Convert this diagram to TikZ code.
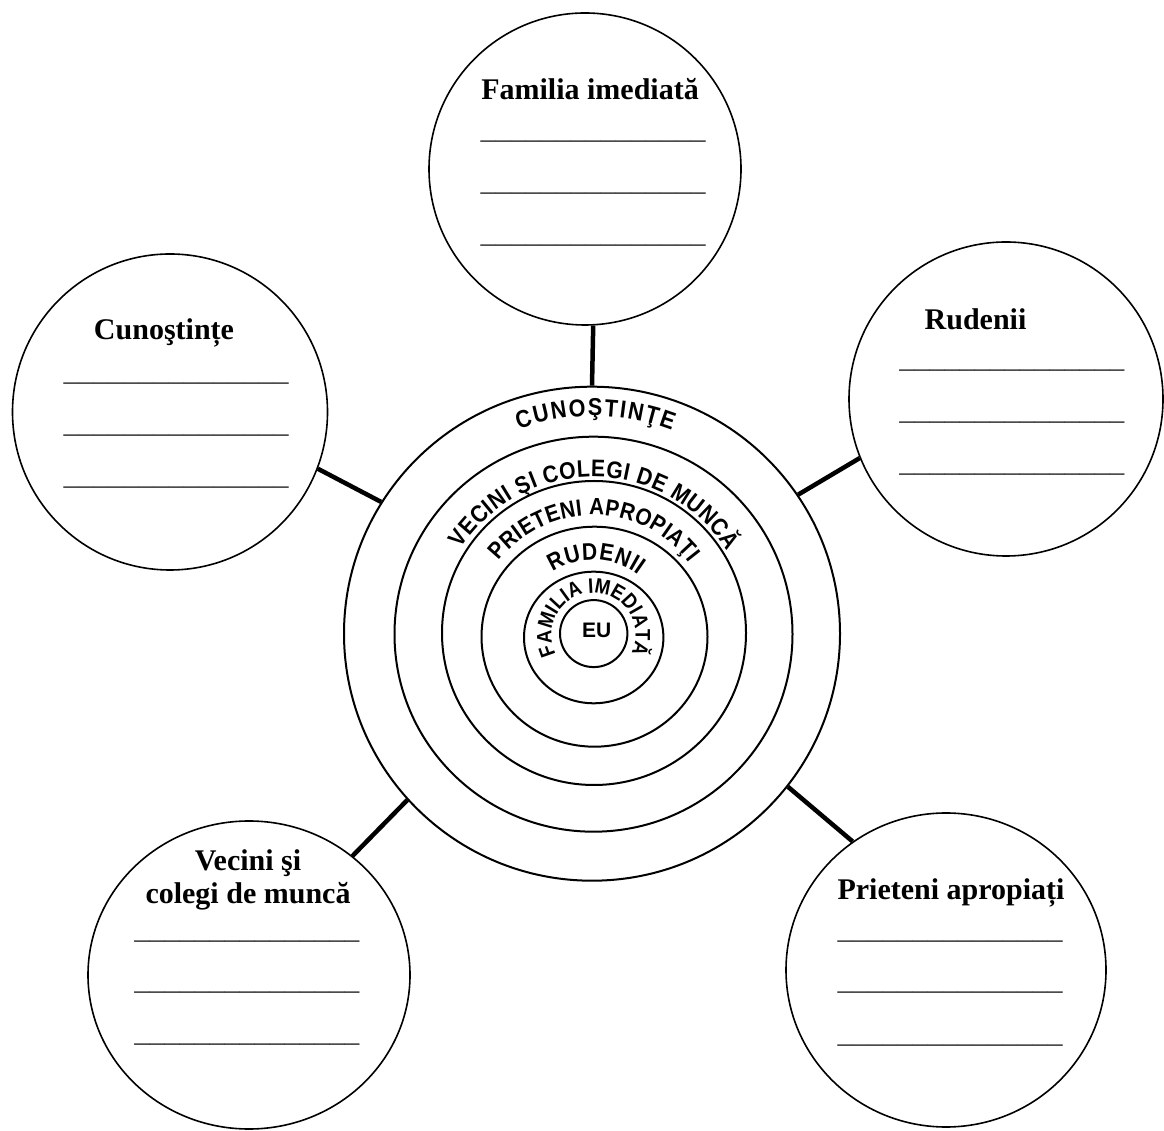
\documentclass[tikz,border=0pt]{standalone}
\usepackage{fontspec}
\setmainfont{Liberation Serif}
\newfontfamily\csans{Liberation Sans}
\newfontfamily\csanst[FakeStretch=0.88]{Liberation Sans}
\usetikzlibrary{shapes.geometric,decorations.text}
\newcommand\myblank{\_\_\_\_\_\_\_\_\_\_\_\_\_\_\_}
\begin{document}
\begin{tikzpicture}[x=1pt,y=1pt,
  sat/.style={draw, ellipse, line width=1.6pt, inner sep=0pt},
  ring/.style={draw, ellipse, line width=2pt, inner sep=0pt},
  link/.style={line width=4.5pt},
  ttl/.style={font=\fontsize{30}{32}\selectfont\bfseries, anchor=base, inner sep=0pt},
  blank/.style={font=\fontsize{30}{32}\selectfont, anchor=base, inner sep=0pt, text=black!80},
  arctext/.style={decorate, decoration={text along path, text align=fit to path, text={#1}}}
  ]
\useasboundingbox (0,0) rectangle (1164,1130);

% central rings
\node[ring, minimum width=496, minimum height=494] (r6) at (592,496.3) {};
\node[ring, minimum width=398, minimum height=395] (r5) at (593.5,495.8) {};
\node[ring, minimum width=304, minimum height=304] (r4) at (594,497) {};
\node[ring, minimum width=226, minimum height=220] (r3) at (594.5,493.3) {};
\node[ring, minimum width=139.4, minimum height=131.6] (r2) at (593.7,492.5) {};
\node[ring, minimum width=67.4, minimum height=67] (r1) at (593.7,496.4) {};
\node[font=\csans\bfseries\fontsize{21}{21}\selectfont, anchor=base, inner sep=0pt] (eu) at (596.7,492) {EU};

\coordinate (O) at (593.5,495);
\path[arctext={|\csanst\bfseries\fontsize{24.5}{24.5}\selectfont|CUNOŞTINŢE}]
  ([shift={(110:219)}]O) arc[start angle=110, end angle=69, radius=219];
\path[arctext={|\csanst\bfseries\fontsize{24}{24}\selectfont|VECINI ŞI COLEGI DE MUNCĂ}]
  ([shift={(147:158)}]O) arc[start angle=147, end angle=32, radius=158];
\path[arctext={|\csanst\bfseries\fontsize{23.5}{23.5}\selectfont|PRIETENI APROPIAŢI}]
  ([shift={(142:120)}]O) arc[start angle=142, end angle=37, radius=120];
\path[arctext={|\csanst\bfseries\fontsize{24}{24}\selectfont|RUDENII}]
  ([shift={(123:75)}]O) arc[start angle=123, end angle=53, radius=75];
\path[arctext={|\csanst\bfseries\fontsize{21}{21}\selectfont|FAMILIA IMEDIATĂ}]
  ([shift={(207:42)}]O) arc[start angle=207, end angle=-26, radius=42];

% satellite circles
\node[sat, minimum width=312, minimum height=312] (sFam) at (585,961) {};
\node[sat, minimum width=315, minimum height=316] (sCun) at (170,718) {};
\node[sat, minimum width=314, minimum height=314] (sRud) at (1006,731) {};
\node[sat, minimum width=322, minimum height=308] (sVec) at (249,155) {};
\node[sat, minimum width=320, minimum height=314] (sPri) at (946,160) {};

% connectors
\draw[link] (r6.90) -- (sFam.273);
\draw[link] (r6.148) -- (sCun.339);
\draw[link] (r6.34) -- (sRud.202);
\draw[link] (r6.222) -- (sVec.49);
\draw[link] (r6.322) -- (sPri.126);

% Familia imediata
\node[ttl] (tFam) at (590,1030) {Familia imediată};
\node[blank] (fA) at (593,991.3) {\myblank};
\node[blank] (fB) at (593,939.7) {\myblank};
\node[blank] (fC) at (593,887) {\myblank};

% Cunostinte
\node[ttl] (tCun) at (164,790) {Cunoştințe};
\node[blank] (cA) at (176,749) {\myblank};
\node[blank] (cB) at (176,697) {\myblank};
\node[blank] (cC) at (176,645.7) {\myblank};

% Rudenii
\node[ttl] (tRud) at (975.5,800.7) {Rudenii};
\node[blank] (rA) at (1011.8,762.3) {\myblank};
\node[blank] (rB) at (1011.8,710.3) {\myblank};
\node[blank] (rC) at (1011.8,658.7) {\myblank};

% Vecini si colegi de munca
\node[ttl] (tVec1) at (248,259.3) {Vecini şi};
\node[ttl] (tVec2) at (248,226) {colegi de muncă};
\node[blank] (vA) at (246.8,191.3) {\myblank};
\node[blank] (vB) at (246.8,140.3) {\myblank};
\node[blank] (vC) at (246.8,88.7) {\myblank};

% Prieteni apropiati
\node[ttl] (tPri) at (951,230.7) {Prieteni apropiați};
\node[blank] (pA) at (950,191.3) {\myblank};
\node[blank] (pB) at (950,140.3) {\myblank};
\node[blank] (pC) at (950,87.3) {\myblank};
\end{tikzpicture}
\end{document}
